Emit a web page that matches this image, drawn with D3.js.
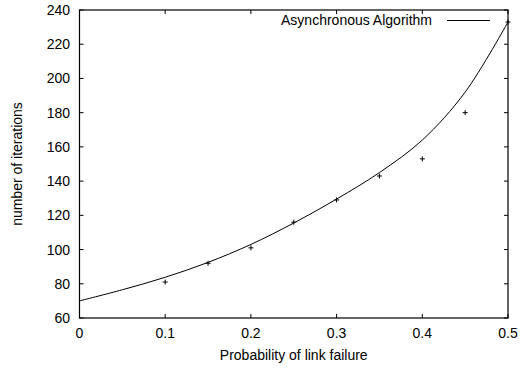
<!DOCTYPE html>
<html>
<head>
<meta charset="utf-8">
<script src="https://cdnjs.cloudflare.com/ajax/libs/d3/7.8.5/d3.min.js"></script>
<style>
  body { margin: 0; background: #fff; }
  text { font-family: "Liberation Sans", Arial, sans-serif; font-size: 14px; fill: #000; }
</style>
</head>
<body>
<div id="chart"></div>
<script>
// measured points
var probs = [0.1, 0.15, 0.2, 0.25, 0.3, 0.35, 0.4, 0.45, 0.5];
var iterations = [81, 92, 101, 116, 129, 143, 153, 180, 233];

// fitted curve
var curveX = [0, 0.05, 0.1, 0.15, 0.2, 0.25, 0.3, 0.35, 0.4, 0.45, 0.5];
var curveY = [70, 76.5, 83.8, 92.5, 103, 115.5, 129.5, 145, 164, 192, 233];

var xTicks = [0, 0.1, 0.2, 0.3, 0.4, 0.5];
var yTicks = [60, 80, 100, 120, 140, 160, 180, 200, 220, 240];

var width = 520, height = 368;
var pLeft = 79.5, pRight = 508, pTop = 10, pBottom = 318;

var svg = d3.select("#chart").append("svg")
    .attr("width", width)
    .attr("height", height);

var x = d3.scaleLinear().domain([0, 0.5]).range([pLeft, pRight]);
var y = d3.scaleLinear().domain([60, 240]).range([pBottom, pTop]);

// ticks, mirrored on all four sides, pointing inward
var tl = 4;
svg.selectAll(".xtb").data(xTicks).enter().append("line")
    .attr("x1", d => x(d)).attr("x2", d => x(d))
    .attr("y1", pBottom).attr("y2", pBottom - tl)
    .attr("stroke", "#000");
svg.selectAll(".xtt").data(xTicks).enter().append("line")
    .attr("x1", d => x(d)).attr("x2", d => x(d))
    .attr("y1", pTop).attr("y2", pTop + tl)
    .attr("stroke", "#000");
svg.selectAll(".ytl").data(yTicks).enter().append("line")
    .attr("x1", pLeft).attr("x2", pLeft + tl)
    .attr("y1", d => y(d)).attr("y2", d => y(d))
    .attr("stroke", "#000");
svg.selectAll(".ytr").data(yTicks).enter().append("line")
    .attr("x1", pRight).attr("x2", pRight - tl)
    .attr("y1", d => y(d)).attr("y2", d => y(d))
    .attr("stroke", "#000");

svg.append("rect")
    .attr("x", pLeft).attr("y", pTop)
    .attr("width", pRight - pLeft).attr("height", pBottom - pTop)
    .attr("fill", "none")
    .attr("stroke", "#000")
    .attr("stroke-width", 1.2);

// tick labels
svg.selectAll(".xl").data(xTicks).enter().append("text")
    .attr("x", d => x(d))
    .attr("y", 338)
    .attr("text-anchor", "middle")
    .text(d => d === 0 ? "0" : d3.format(".1f")(d));
svg.selectAll(".yl").data(yTicks).enter().append("text")
    .attr("x", 70)
    .attr("y", d => y(d) + 5)
    .attr("text-anchor", "end")
    .text(d => d);

// axis titles
svg.append("text")
    .attr("x", (pLeft + pRight) / 2)
    .attr("y", 360)
    .attr("text-anchor", "middle")
    .text("Probability of link failure");
svg.append("text")
    .attr("transform", "translate(22," + ((pTop + pBottom) / 2) + ") rotate(-90)")
    .attr("text-anchor", "middle")
    .text("number of iterations");

// clip to plot area
svg.append("clipPath").attr("id", "clip")
  .append("rect")
    .attr("x", pLeft).attr("y", pTop)
    .attr("width", pRight - pLeft).attr("height", pBottom - pTop);

var line = d3.line()
    .x(d => x(d[0]))
    .y(d => y(d[1]))
    .curve(d3.curveCatmullRom);

svg.append("path")
    .datum(curveX.map((d, i) => [d, curveY[i]]))
    .attr("clip-path", "url(#clip)")
    .attr("fill", "none")
    .attr("stroke", "#000")
    .attr("stroke-width", 1)
    .attr("d", line);

// point markers "+"
var ms = 2.5;
var pts = svg.selectAll(".pt").data(probs.map((d, i) => [d, iterations[i]]))
    .enter().append("g")
    .attr("transform", d => "translate(" + x(d[0]) + "," + y(d[1]) + ")");
pts.append("line").attr("x1", -ms).attr("x2", ms).attr("y1", 0).attr("y2", 0).attr("stroke", "#000");
pts.append("line").attr("x1", 0).attr("x2", 0).attr("y1", -ms).attr("y2", ms).attr("stroke", "#000");

// legend
svg.append("text")
    .attr("x", 432)
    .attr("y", 25)
    .attr("text-anchor", "end")
    .text("Asynchronous Algorithm");
svg.append("line")
    .attr("x1", 447).attr("x2", 490)
    .attr("y1", 20.5).attr("y2", 20.5)
    .attr("stroke", "#000");
</script>
</body>
</html>
